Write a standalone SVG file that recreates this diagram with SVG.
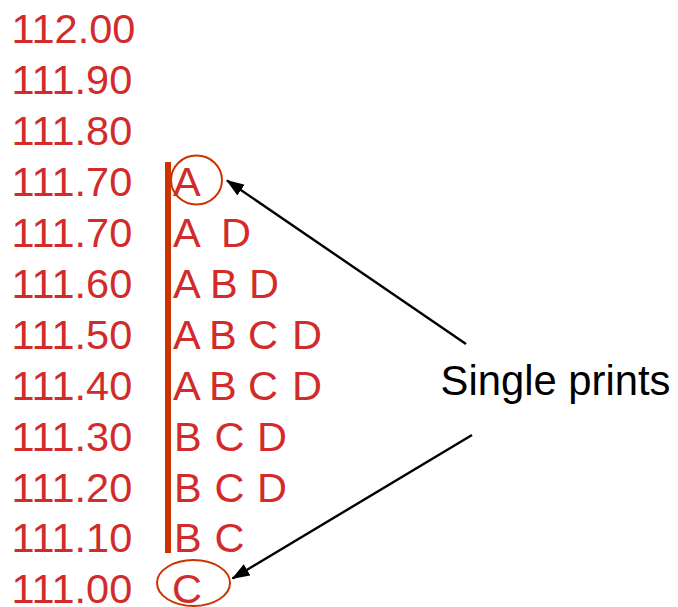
<svg xmlns="http://www.w3.org/2000/svg" width="678" height="607" viewBox="0 0 678 607">
<style>
  .num { font-family: "Liberation Sans", Arial, sans-serif; font-size: 41.5px; fill: #D22B2B; }
  .let { font-family: "Liberation Sans", Arial, sans-serif; font-size: 41.5px; fill: #D22B2B; white-space: pre; }
  .lbl { font-family: "Liberation Sans", Arial, sans-serif; font-size: 41.8px; fill: #000000; }
  .ring { fill: none; stroke: #CC3300; stroke-width: 2; }
  .arrow { stroke: #000000; stroke-width: 2.4; fill: none; marker-end: url(#head); }
</style>
<defs>
  <marker id="head" markerUnits="userSpaceOnUse" viewBox="0 0 18 13" refX="17" refY="6.5" markerWidth="18" markerHeight="13" orient="auto">
    <path d="M0,0 L18,6.5 L0,13 Z" fill="#000000"/>
  </marker>
</defs>
<rect width="678" height="607" fill="#FFFFFF"/>
<g id="price-scale">
  <text class="num" x="11.5" y="43">112.00</text>
  <text class="num" x="11.5" y="94">111.90</text>
  <text class="num" x="11.5" y="145">111.80</text>
  <text class="num" x="11.5" y="196">111.70</text>
  <text class="num" x="11.5" y="247">111.70</text>
  <text class="num" x="11.5" y="298">111.60</text>
  <text class="num" x="11.5" y="348.5">111.50</text>
  <text class="num" x="11.5" y="399.5">111.40</text>
  <text class="num" x="11.5" y="450.5">111.30</text>
  <text class="num" x="11.5" y="501.5">111.20</text>
  <text class="num" x="11.5" y="552">111.10</text>
  <text class="num" x="11.5" y="603">111.00</text>
</g>
<g id="range-bar">
  <rect x="165" y="162" width="6" height="391" fill="#CC3300"/>
</g>
<g id="letters">
  <text class="let" x="173" y="196">A</text>
  <text class="let" x="173 200 210 221" y="247">A  D</text>
  <text class="let" x="173 200 210 237 249" y="298">A B D</text>
  <text class="let" x="173 200 209 236 248 280 292" y="348.5">A B C D</text>
  <text class="let" x="173 200 209 236 248 280 292" y="399.5">A B C D</text>
  <text class="let" x="174 201 214.5 243 257" y="450.5">B C D</text>
  <text class="let" x="174 201 214.5 243 257" y="501.5">B C D</text>
  <text class="let" x="174 201 214.5" y="552">B C</text>
  <text class="let" x="172" y="603">C</text>
</g>
<g id="single-print-A">
  <ellipse class="ring" cx="196.5" cy="180" rx="25.5" ry="24.5"/>
</g>
<g id="single-print-C">
  <ellipse class="ring" cx="193.5" cy="583" rx="36.5" ry="23"/>
</g>
<g id="label">
  <text class="lbl" x="440.5" y="395">Single prints</text>
</g>
<g id="connectors">
  <line class="arrow" x1="466" y1="344" x2="227" y2="180.5"/>
  <line class="arrow" x1="472" y1="435" x2="232.5" y2="578.5"/>
</g>
</svg>
